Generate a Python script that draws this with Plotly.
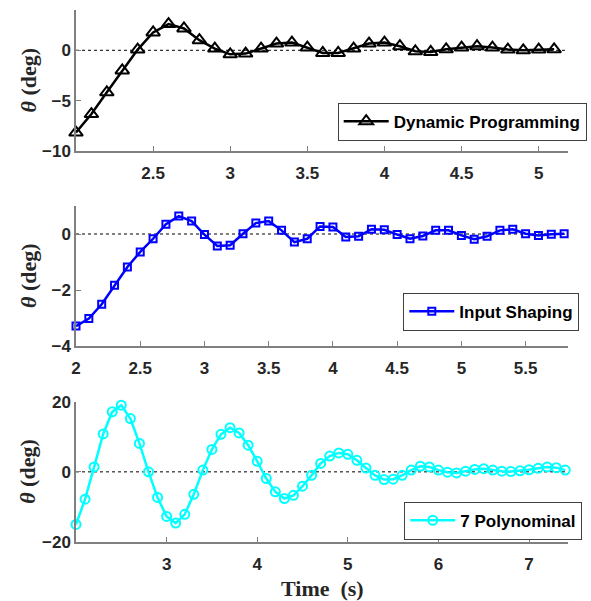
import plotly.graph_objects as go

# ---------------- data ----------------
t_dp = [round(2.0 + 0.1 * i, 1) for i in range(32)]
theta_dp = [-8.17, -6.33, -4.17, -2.0, 0.07, 1.77, 2.6, 2.17, 1.0, 0.17,
            -0.4, -0.33, 0.17, 0.67, 0.77, 0.27, -0.27, -0.27, 0.17, 0.67,
            0.77, 0.4, -0.1, -0.17, 0.1, 0.27, 0.4, 0.27, 0.07, 0.0,
            0.07, 0.1]

t_is = [round(2.0 + 0.1 * i, 1) for i in range(39)]
theta_is = [-3.29, -3.02, -2.51, -1.83, -1.18, -0.64, -0.17, 0.35, 0.64, 0.46,
            -0.02, -0.43, -0.40, 0.01, 0.39, 0.46, 0.13, -0.29, -0.17, 0.27,
            0.25, -0.11, -0.08, 0.17, 0.15, -0.02, -0.17, -0.07, 0.13, 0.13,
            -0.05, -0.19, -0.08, 0.13, 0.17, 0.01, -0.05, -0.01, 0.01]

t_poly = [round(2.0 + 0.1 * i, 1) for i in range(55)]
theta_poly = [-15.0, -7.8, 1.4, 10.8, 17.1, 19.0, 15.2, 8.1, 0.0, -7.3,
              -12.7, -14.6, -12.1, -6.4, 0.5, 6.4, 10.7, 12.6, 11.1, 7.6,
              3.0, -1.9, -5.7, -7.6, -6.7, -4.1, -1.0, 2.4, 4.5, 5.4,
              5.0, 3.3, 1.1, -1.0, -2.2, -2.1, -1.0, 0.5, 1.6, 1.4,
              0.5, -0.1, -0.3, 0.2, 0.7, 0.9, 0.5, 0.2, 0.1, 0.3,
              0.6, 1.0, 1.4, 1.2, 0.5]

names = ["Dynamic Programming", "Input Shaping", "7 Polynominal"]
x_ticks = [[2.5, 3, 3.5, 4, 4.5, 5], [2, 2.5, 3, 3.5, 4, 4.5, 5, 5.5], [3, 4, 5, 6, 7]]
y_ticks = [[-10, -5, 0], [-4, -2, 0], [-20, 0, 20]]
x_ranges = [[2.0, 5.19], [2.0, 5.83], [2.0, 7.43]]
y_ranges = [[-10, 4], [-4, 1], [-20, 20]]

# ---------------- figure ----------------
W, H = 591, 601
L, R, T, B = 76, 23, 10, 59
PW, PH = W - L - R, H - T - B

def py(px):
    return 1 - (px - T) / PH

def pxx(px):
    return (px - L) / PW

domains = [[py(151), 1.0], [py(346), py(206)], [0.0, py(401.7)]]

fig = go.Figure()
styles = [
    dict(color="black", symbol="triangle-up-open", size=12),
    dict(color="#0000FF", symbol="square-open", size=7),
    dict(color="#00FFFF", symbol="circle-open", size=9),
]
series = [(t_dp, theta_dp), (t_is, theta_is), (t_poly, theta_poly)]
legend_ids = ["legend", "legend2", "legend3"]

for i, ((xs, ys), st) in enumerate(zip(series, styles)):
    sfx = "" if i == 0 else str(i + 1)
    fig.add_trace(go.Scatter(
        x=xs, y=ys, mode="lines+markers", name=names[i],
        line=dict(color=st["color"], width=2.5),
        marker=dict(symbol=st["symbol"], size=st["size"], color=st["color"],
                    line=dict(color=st["color"], width=2)),
        xaxis="x" + sfx, yaxis="y" + sfx, legend=legend_ids[i],
        cliponaxis=False,
    ))
    fig.add_shape(type="line", xref="x" + sfx + " domain", yref="y" + sfx,
                  x0=0, x1=1, y0=0, y1=0,
                  line=dict(color="black", width=1, dash="dot"), layer="below")

tickfont = dict(family="Liberation Sans, Arial", size=17, color="#262626", weight="bold")
axis_common = dict(showline=True, linecolor="#808080", linewidth=1.5, ticks="inside",
                   ticklen=5, tickcolor="#808080", showgrid=False, zeroline=False,
                   tickfont=tickfont, mirror=False, automargin=False)

layout = dict(width=W, height=H, margin=dict(l=L, r=R, t=T, b=B, autoexpand=False),
              paper_bgcolor="white", plot_bgcolor="white", showlegend=True)
for i in range(3):
    sfx = "" if i == 0 else str(i + 1)
    layout["xaxis" + sfx] = dict(axis_common, domain=[0, 1], range=x_ranges[i],
                                 tickvals=x_ticks[i], anchor="y" + sfx,
                                 ticklabelstandoff=6)
    layout["yaxis" + sfx] = dict(axis_common, domain=domains[i], range=y_ranges[i],
                                 tickvals=y_ticks[i], anchor="x" + sfx)

legfont = dict(family="Liberation Sans, Arial", size=17, color="black", weight="bold")
leg_pos = [(586.7, 102.7), (579.3, 292.7), (582.3, 501.7)]
for lid, (rx, ty) in zip(legend_ids, leg_pos):
    layout[lid] = dict(x=pxx(rx), y=py(ty), xanchor="right", yanchor="top",
                       bgcolor="white", bordercolor="#404040", borderwidth=1,
                       font=legfont, tracegroupgap=0, itemwidth=45)

fig.update_layout(**layout)

serif = dict(family="Liberation Serif, Times New Roman", size=22, color="#262626", weight="bold")
for i in range(3):
    cy = (domains[i][0] + domains[i][1]) / 2
    fig.add_annotation(text="<i>θ</i> (deg)", xref="paper", yref="paper",
                       x=pxx(28), y=cy, xanchor="center", yanchor="middle",
                       textangle=-90, showarrow=False, font=serif)
fig.add_annotation(text="Time  (s)", xref="paper", yref="paper",
                   x=0.5, y=py(588), xanchor="center", yanchor="middle",
                   showarrow=False, font=serif)

fig.write_html("out.html", config={"displayModeBar": False},
               post_script="document.body.style.margin='0';document.body.style.padding='0';")
